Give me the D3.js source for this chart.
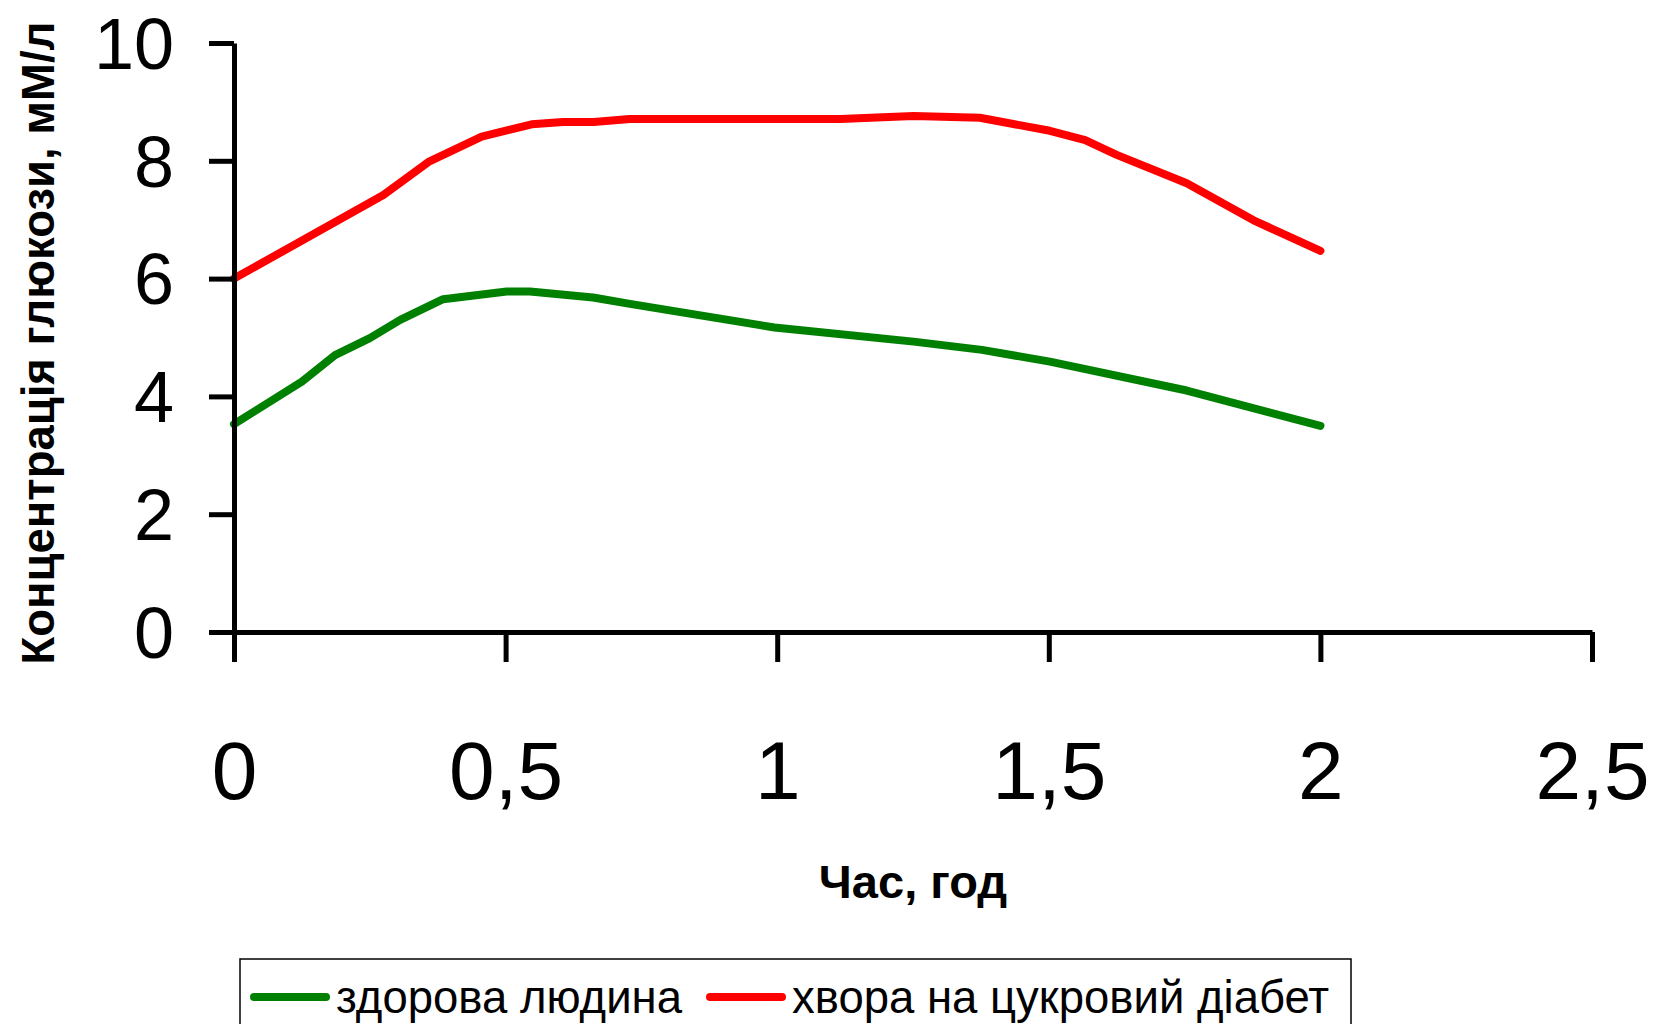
<!DOCTYPE html>
<html>
<head>
<meta charset="utf-8">
<script src="https://cdn.jsdelivr.net/npm/d3@7"></script>
<style>
    body { margin: 0; background: #fff; }
    svg { font-family: Arial, "Liberation Sans", sans-serif; }
</style>
</head>
<body>
<svg id="chart" width="1670" height="1024"></svg>
<script>
// time, hours
var healthyTime = [0, 0.125, 0.186, 0.25, 0.306, 0.385, 0.502, 0.545, 0.661, 0.729, 0.995, 1.251, 1.377, 1.502, 1.754, 2.0];
// glucose, mM/l
var healthyGlucose = [3.53, 4.25, 4.70, 4.99, 5.30, 5.65, 5.78, 5.78, 5.68, 5.57, 5.17, 4.93, 4.79, 4.59, 4.10, 3.50];

var diabetesTime = [0, 0.275, 0.358, 0.456, 0.548, 0.606, 0.662, 0.729, 1.116, 1.251, 1.373, 1.502, 1.567, 1.625, 1.754, 1.877, 2.0];
var diabetesGlucose = [6.0, 7.42, 7.98, 8.41, 8.62, 8.66, 8.66, 8.71, 8.71, 8.76, 8.73, 8.51, 8.35, 8.10, 7.62, 6.99, 6.47];

var xTicks = [0, 0.5, 1, 1.5, 2, 2.5];
var yTicks = [0, 2, 4, 6, 8, 10];

var seriesNames = ["здорова людина", "хвора на цукровий діабет"];
var seriesColors = ["#008000", "#ff0000"];

var xTitle = "Час, год";
var yTitle = "Концентрація глюкози, мМ/л";

var svg = d3.select("#chart");

// plot area (window.top is reserved, so no plain "top")
var plotLeft = 234, plotRight = 1592, plotTop = 43, plotBottom = 632;

var xScale = d3.scaleLinear()
    .domain([0, 2.5])
    .range([plotLeft, plotRight]);

var yScale = d3.scaleLinear()
    .domain([0, 10])
    .range([plotBottom, plotTop]);

var fmt = function(d) { return String(d).replace(".", ","); };

var line = d3.line()
    .x(function(d) { return xScale(d.t); })
    .y(function(d) { return yScale(d.v); });

var healthy = healthyTime.map(function(t, i) { return {t: t, v: healthyGlucose[i]}; });
var diabetes = diabetesTime.map(function(t, i) { return {t: t, v: diabetesGlucose[i]}; });

// lines first, axes drawn on top
[healthy, diabetes].forEach(function(data, i) {
    svg.append("path")
        .datum(data)
        .attr("fill", "none")
        .attr("stroke", seriesColors[i])
        .attr("stroke-width", 8)
        .attr("stroke-linejoin", "round")
        .attr("stroke-linecap", "round")
        .attr("d", line);
});

// Y axis
var yAxis = d3.axisLeft(yScale)
    .tickValues(yTicks)
    .tickSize(25)
    .tickSizeOuter(0)
    .tickPadding(35)
    .tickFormat(fmt);

var gy = svg.append("g")
    .attr("transform", "translate(" + plotLeft + ",0)")
    .call(yAxis);
gy.select(".domain").attr("stroke", "#000").attr("stroke-width", 5);
gy.selectAll(".tick line").attr("stroke", "#000").attr("stroke-width", 5);
gy.selectAll(".tick text")
    .attr("fill", "#000")
    .style("font-size", "72px")
    .attr("dy", "0.35em");

// X axis
var xAxis = d3.axisBottom(xScale)
    .tickValues(xTicks)
    .tickSize(30)
    .tickSizeOuter(0)
    .tickFormat(fmt);

var gx = svg.append("g")
    .attr("transform", "translate(0," + plotBottom + ")")
    .call(xAxis);
gx.select(".domain").attr("stroke", "#000").attr("stroke-width", 5);
gx.selectAll(".tick line").attr("stroke", "#000").attr("stroke-width", 5);
gx.selectAll(".tick text")
    .attr("fill", "#000")
    .attr("y", 167)
    .attr("dy", 0)
    .style("font-size", "82px");

// axis titles
svg.append("text")
    .attr("x", (plotLeft + plotRight) / 2)
    .attr("y", 898)
    .attr("text-anchor", "middle")
    .style("font-size", "47px")
    .style("font-weight", "bold")
    .text(xTitle);

svg.append("text")
    .attr("transform", "translate(54,343) rotate(-90)")
    .attr("text-anchor", "middle")
    .style("font-size", "45.5px")
    .style("font-weight", "bold")
    .text(yTitle);

// legend
var legend = svg.append("g");
legend.append("rect")
    .attr("x", 240)
    .attr("y", 959)
    .attr("width", 1111)
    .attr("height", 100)
    .attr("fill", "none")
    .attr("stroke", "#000")
    .attr("stroke-width", 1.5);

var legendX = [254, 710];
seriesNames.forEach(function(name, i) {
    legend.append("line")
        .attr("x1", legendX[i])
        .attr("x2", legendX[i] + 72)
        .attr("y1", 997)
        .attr("y2", 997)
        .attr("stroke", seriesColors[i])
        .attr("stroke-width", 8)
        .attr("stroke-linecap", "round");
    legend.append("text")
        .attr("x", legendX[i] + 82)
        .attr("y", 1013)
        .style("font-size", "45.5px")
        .text(name);
});
</script>
</body>
</html>
